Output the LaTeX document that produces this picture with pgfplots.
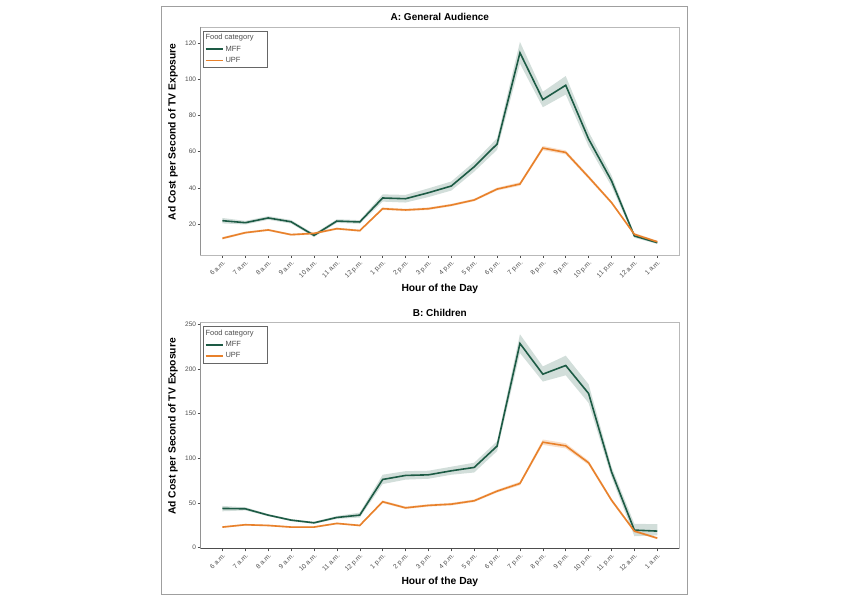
\documentclass[border=0pt]{standalone}
\usepackage{pgfplots}
\pgfplotsset{compat=1.18}
\usepackage{pgfplotstable}
\usepgfplotslibrary{fillbetween}
\usepackage{fontspec}
\setmainfont{Liberation Sans}
\definecolor{mff}{HTML}{1D5B45}
\definecolor{upf}{HTML}{E8812B}
\definecolor{txtgray}{HTML}{4D4D4D}

\pgfplotstableread{
x mff mlo mhi upf ulo uhi
0 22.0 20.5 23.5 12.3 11.6 13.0
1 20.9 19.9 21.9 15.4 14.8 16.0
2 23.5 22.5 24.5 16.9 16.3 17.5
3 21.4 20.4 22.4 14.3 13.7 14.9
4 13.9 13.0 14.8 15.0 14.4 15.6
5 21.8 20.8 22.8 17.6 17.0 18.2
6 21.3 20.3 22.3 16.5 15.9 17.1
7 34.5 32.5 36.5 28.6 27.9 29.3
8 34.1 32.0 36.2 27.9 27.2 28.6
9 37.4 35.0 39.8 28.6 27.9 29.3
10 41.1 38.6 43.6 30.6 29.9 31.3
11 51.7 49.0 54.4 33.4 32.7 34.1
12 64.2 61.0 67.4 39.4 38.6 40.2
13 114.5 108.5 120.5 42.2 41.2 43.2
14 88.7 84.5 93.0 62.0 60.8 63.2
15 96.6 91.5 101.7 59.6 58.5 60.7
16 67.0 63.0 71.0 46.0 45.0 47.0
17 44.0 41.0 47.0 32.0 31.2 32.8
18 13.6 12.6 14.6 14.5 13.8 15.2
19 9.9 9.2 10.6 10.4 9.8 11.0
}\dataA

\pgfplotstableread{
x mff mlo mhi upf ulo uhi
0 43.7 40.5 46.5 22.8 21.8 23.8
1 43.3 41.5 45.0 25.4 24.4 26.4
2 36.2 35.0 37.4 24.6 23.6 25.6
3 30.6 29.4 31.8 22.8 21.8 23.8
4 27.6 26.4 28.8 22.8 21.8 23.8
5 33.6 32.0 35.2 26.9 25.9 27.9
6 36.2 33.5 39.0 24.6 23.6 25.6
7 76.2 71.0 81.5 51.2 49.7 52.7
8 80.7 76.0 85.5 44.4 43.0 45.8
9 81.4 77.0 86.0 47.1 45.7 48.5
10 85.9 81.5 90.5 48.5 47.0 50.0
11 89.7 84.0 95.0 52.3 50.8 53.8
12 113.6 108.0 119.0 63.1 61.5 64.7
13 228.7 218.0 239.0 71.7 69.7 73.7
14 194.3 186.0 203.0 118.0 115.0 121.0
15 204.0 193.0 215.0 113.9 111.0 116.8
16 172.6 162.0 183.0 94.9 92.5 97.3
17 84.8 79.0 90.5 53.0 51.0 55.0
18 19.4 12.5 26.5 18.3 16.8 19.8
19 18.3 13.5 26.0 10.4 9.2 11.6
}\dataB

\pgfplotsset{
  panel/.style={
    scale only axis,
    width=478.3pt,
    xmin=-0.95, xmax=19.95,
    xtick={0,...,19},
    xticklabels={6 a.m.,7 a.m.,8 a.m.,9 a.m.,10 a.m.,11 a.m.,12 p.m.,1 p.m.,2 p.m.,3 p.m.,4 p.m.,5 p.m.,6 p.m.,7 p.m.,8 p.m.,9 p.m.,10 p.m.,11 p.m.,12 a.m.,1 a.m.},
    tick align=outside,
    tick pos=left,
    major tick length=3pt,
    tick style={txtgray, line width=0.5pt},
    axis line style={gray!55, line width=0.6pt},
    /pgf/number format/assume math mode=true,
    x tick label style={rotate=45, anchor=north east, font=\fontsize{6.6}{7}\selectfont, text=txtgray, inner sep=1pt},
    y tick label style={font=\fontsize{6.5}{7}\selectfont, text=txtgray, inner sep=1.5pt},
    xlabel style={at={(axis description cs:0.5,0)}, yshift=-34pt, anchor=center, font=\bfseries\fontsize{10.3}{12}\selectfont},
    ylabel style={at={(axis description cs:-0.058,0.54)}, anchor=center, font=\bfseries\fontsize{10.3}{12}\selectfont},
    every axis title/.style={at={(axis description cs:0.5,1)}, anchor=base, yshift=6pt, font=\bfseries\fontsize{10}{12}\selectfont},
    legend style={at={(axis description cs:0.005,0.984)}, anchor=north west, draw=gray!80!black, line width=0.6pt, font=\fontsize{7.5}{9}\selectfont, text=txtgray, inner sep=1.5pt, row sep=0.5pt},
    legend cell align=left,
    xlabel={Hour of the Day},
    ylabel={Ad Cost per Second of TV Exposure},
  },
  mffline/.style={mff, line width=1.6pt},
  upfline/.style={upf, line width=1.6pt},
}

\begin{document}
\begin{tikzpicture}
\path (0,0) rectangle (843pt,600pt);
\draw[gray!75, line width=0.8pt] (161pt,6pt) rectangle (687pt,594pt);

% Panel A
\begin{axis}[panel, at={(200.7pt,345pt)}, anchor=south west, height=228pt,
  ymin=3.1, ymax=128.7, ytick={20,40,60,80,100,120},
  title={A: General Audience}]
\addlegendimage{empty legend}\addlegendentry{\hspace*{-20pt}Food category\hspace*{10pt}}
\addplot[name path=amhi, draw=none, forget plot] table[x=x,y=mhi]{\dataA};
\addplot[name path=amlo, draw=none, forget plot] table[x=x,y=mlo]{\dataA};
\addplot[mff, fill opacity=0.2, draw=none, forget plot] fill between[of=amhi and amlo];
\addplot[name path=auhi, draw=none, forget plot] table[x=x,y=uhi]{\dataA};
\addplot[name path=aulo, draw=none, forget plot] table[x=x,y=ulo]{\dataA};
\addplot[upf, fill opacity=0.25, draw=none, forget plot] fill between[of=auhi and aulo];
\addplot[mffline] table[x=x,y=mff]{\dataA};
\addlegendentry{MFF}
\addplot[upfline] table[x=x,y=upf]{\dataA};
\addlegendentry{UPF}
\draw[txtgray, line width=0.7pt] (rel axis cs:0,1) -- (rel axis cs:0,0) -- (rel axis cs:1,0);
\end{axis}

% Panel B
\begin{axis}[panel, at={(200.7pt,51.7pt)}, anchor=south west, height=225.6pt,
  ymin=-1, ymax=252, ytick={0,50,100,150,200,250},
  title={B: Children}]
\addlegendimage{empty legend}\addlegendentry{\hspace*{-20pt}Food category\hspace*{10pt}}
\addplot[name path=bmhi, draw=none, forget plot] table[x=x,y=mhi]{\dataB};
\addplot[name path=bmlo, draw=none, forget plot] table[x=x,y=mlo]{\dataB};
\addplot[mff, fill opacity=0.2, draw=none, forget plot] fill between[of=bmhi and bmlo];
\addplot[name path=buhi, draw=none, forget plot] table[x=x,y=uhi]{\dataB};
\addplot[name path=bulo, draw=none, forget plot] table[x=x,y=ulo]{\dataB};
\addplot[upf, fill opacity=0.25, draw=none, forget plot] fill between[of=buhi and bulo];
\addplot[mffline] table[x=x,y=mff]{\dataB};
\addlegendentry{MFF}
\addplot[upfline] table[x=x,y=upf]{\dataB};
\addlegendentry{UPF}
\draw[txtgray, line width=0.7pt] (rel axis cs:0,1) -- (rel axis cs:0,0) -- (rel axis cs:1,0);
\end{axis}
\end{tikzpicture}
\end{document}
